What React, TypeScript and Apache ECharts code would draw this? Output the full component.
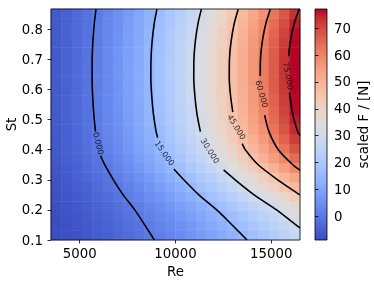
import React, { useEffect, useRef } from "react";
import * as echarts from "echarts";

// Re cell centres (24 columns) and St cell centres (24 rows, bottom to top)
const reCenters = [3771, 4313, 4854, 5396, 5938, 6479, 7021, 7563, 8104, 8646, 9188, 9729, 10271, 10813, 11354, 11896, 12438, 12979, 13521, 14063, 14604, 15146, 15688, 16229];
const stCenters = [0.116, 0.148, 0.18, 0.212, 0.244, 0.276, 0.308, 0.34, 0.372, 0.404, 0.436, 0.468, 0.5, 0.532, 0.564, 0.596, 0.628, 0.66, 0.692, 0.724, 0.756, 0.788, 0.82, 0.852];

// scaled F / [N], one row per St value (bottom row first)
const fRow00 = [-8.8, -8.2, -7.5, -6.7, -5.8, -4.9, -3.9, -2.7, -1.5, -0.2, 1.1, 2.6, 4.1, 5.8, 7.5, 9.2, 11.1, 13.1, 15.1, 17.2, 19.4, 21.7, 24.1, 26.6];
const fRow01 = [-8.7, -8.0, -7.2, -6.4, -5.5, -4.4, -3.3, -2.1, -0.8, 0.6, 2.1, 3.6, 5.3, 7.0, 8.9, 10.8, 12.8, 14.9, 17.1, 19.4, 21.8, 24.2, 26.8, 29.4];
const fRow02 = [-8.5, -7.8, -7.0, -6.0, -5.0, -3.9, -2.7, -1.4, 0.0, 1.5, 3.1, 4.8, 6.6, 8.4, 10.4, 12.5, 14.7, 16.9, 19.3, 21.8, 24.3, 27.0, 29.8, 32.6];
const fRow03 = [-8.3, -7.5, -6.6, -5.6, -4.5, -3.3, -1.9, -0.5, 1.0, 2.7, 4.4, 6.3, 8.2, 10.3, 12.5, 14.8, 17.1, 19.6, 22.2, 24.9, 27.8, 30.7, 33.7, 36.8];
const fRow04 = [-8.0, -7.1, -6.1, -5.0, -3.8, -2.4, -0.9, 0.6, 2.4, 4.2, 6.1, 8.2, 10.4, 12.6, 15.1, 17.6, 20.2, 23.0, 25.9, 28.9, 32.0, 35.3, 38.6, 42.1];
const fRow05 = [-7.7, -6.7, -5.6, -4.4, -3.0, -1.5, 0.1, 1.9, 3.8, 5.8, 8.0, 10.3, 12.7, 15.2, 17.9, 20.7, 23.6, 26.7, 29.9, 33.2, 36.7, 40.3, 44.0, 47.9];
const fRow06 = [-7.4, -6.3, -5.1, -3.8, -2.3, -0.7, 1.1, 3.0, 5.0, 7.2, 9.6, 12.1, 14.7, 17.4, 20.3, 23.4, 26.6, 29.9, 33.4, 37.0, 40.8, 44.7, 48.7, 52.9];
const fRow07 = [-7.1, -5.9, -4.6, -3.1, -1.5, 0.3, 2.3, 4.4, 6.6, 9.0, 11.6, 14.3, 17.2, 20.2, 23.4, 26.8, 30.3, 34.0, 37.8, 41.8, 45.9, 50.2, 54.6, 59.2];
const fRow08 = [-6.8, -5.5, -4.1, -2.5, -0.8, 1.2, 3.2, 5.5, 7.9, 10.5, 13.3, 16.2, 19.3, 22.6, 26.0, 29.6, 33.4, 37.3, 41.4, 45.7, 50.1, 54.8, 59.5, 64.5];
const fRow09 = [-6.6, -5.3, -3.8, -2.1, -0.2, 1.8, 4.0, 6.4, 8.9, 11.7, 14.6, 17.6, 20.9, 24.3, 28.0, 31.7, 35.7, 39.9, 44.2, 48.7, 53.3, 58.2, 63.2, 68.4];
const fRow10 = [-6.4, -5.0, -3.5, -1.7, 0.2, 2.3, 4.6, 7.1, 9.7, 12.5, 15.6, 18.8, 22.2, 25.7, 29.5, 33.4, 37.6, 41.9, 46.4, 51.0, 55.9, 60.9, 66.2, 71.6];
const fRow11 = [-6.3, -4.9, -3.3, -1.5, 0.5, 2.7, 5.0, 7.6, 10.3, 13.2, 16.3, 19.6, 23.1, 26.8, 30.7, 34.7, 39.0, 43.4, 48.0, 52.8, 57.8, 63.0, 68.4, 74.0];
const fRow12 = [-6.2, -4.7, -3.1, -1.3, 0.7, 2.9, 5.3, 7.9, 10.7, 13.7, 16.8, 20.2, 23.8, 27.5, 31.4, 35.6, 39.9, 44.4, 49.1, 54.0, 59.1, 64.4, 69.9, 75.5];
const fRow13 = [-6.1, -4.7, -3.0, -1.2, 0.9, 3.1, 5.5, 8.1, 11.0, 14.0, 17.2, 20.6, 24.2, 28.0, 32.0, 36.1, 40.5, 45.1, 49.8, 54.8, 60.0, 65.3, 70.9, 76.6];
const fRow14 = [-6.1, -4.6, -2.9, -1.1, 1.0, 3.3, 5.7, 8.4, 11.2, 14.3, 17.5, 21.0, 24.6, 28.4, 32.5, 36.7, 41.1, 45.8, 50.6, 55.6, 60.8, 66.2, 71.8, 76.9];
const fRow15 = [-6.0, -4.6, -2.9, -1.0, 1.1, 3.3, 5.8, 8.5, 11.4, 14.4, 17.7, 21.1, 24.8, 28.7, 32.7, 37.0, 41.4, 46.1, 50.9, 56.0, 61.2, 66.7, 72.3, 77.1];
const fRow16 = [-6.0, -4.5, -2.8, -1.0, 1.1, 3.4, 5.9, 8.6, 11.5, 14.6, 17.8, 21.3, 25.0, 28.9, 33.0, 37.3, 41.7, 46.4, 51.3, 56.4, 61.7, 67.1, 72.8, 77.2];
const fRow17 = [-6.0, -4.5, -2.8, -0.9, 1.2, 3.5, 6.0, 8.7, 11.5, 14.6, 17.9, 21.4, 25.1, 29.0, 33.1, 37.4, 41.9, 46.6, 51.5, 56.6, 61.9, 67.4, 73.1, 77.2];
const fRow18 = [-6.0, -4.5, -2.8, -1.0, 1.1, 3.4, 5.9, 8.6, 11.5, 14.6, 17.8, 21.3, 25.0, 28.9, 33.0, 37.3, 41.7, 46.4, 51.3, 56.4, 61.7, 67.1, 72.8, 77.2];
const fRow19 = [-6.0, -4.5, -2.9, -1.0, 1.1, 3.4, 5.9, 8.5, 11.4, 14.5, 17.8, 21.2, 24.9, 28.8, 32.9, 37.1, 41.6, 46.3, 51.1, 56.2, 61.5, 66.9, 72.6, 77.1];
const fRow20 = [-6.1, -4.6, -2.9, -1.1, 1.0, 3.3, 5.7, 8.4, 11.2, 14.3, 17.5, 21.0, 24.6, 28.4, 32.5, 36.7, 41.1, 45.8, 50.6, 55.6, 60.8, 66.2, 71.8, 76.9];
const fRow21 = [-6.1, -4.7, -3.0, -1.2, 0.9, 3.1, 5.5, 8.1, 11.0, 14.0, 17.2, 20.6, 24.2, 28.0, 32.0, 36.1, 40.5, 45.1, 49.8, 54.8, 60.0, 65.3, 70.9, 76.6];
const fRow22 = [-6.2, -4.8, -3.1, -1.3, 0.7, 2.9, 5.3, 7.9, 10.6, 13.6, 16.8, 20.1, 23.6, 27.4, 31.3, 35.4, 39.7, 44.2, 48.9, 53.8, 58.9, 64.2, 69.6, 75.3];
const fRow23 = [-6.3, -4.9, -3.3, -1.5, 0.4, 2.6, 4.9, 7.5, 10.2, 13.1, 16.2, 19.4, 22.9, 26.6, 30.4, 34.4, 38.7, 43.1, 47.6, 52.4, 57.4, 62.6, 67.9, 73.4];
const fRows = [fRow00, fRow01, fRow02, fRow03, fRow04, fRow05, fRow06, fRow07, fRow08, fRow09, fRow10, fRow11, fRow12, fRow13, fRow14, fRow15, fRow16, fRow17, fRow18, fRow19, fRow20, fRow21, fRow22, fRow23];

// contour lines: [Re, St], null = gap for the inline label
const contour0 = [[5850, 0.867], [5760, 0.82], [5687, 0.76], [5649, 0.7], [5645, 0.64], [5674, 0.58], [5730, 0.52], [5823, 0.46], null, [6085, 0.38], [6310, 0.35], [6759, 0.3], [7268, 0.25], [7874, 0.2], [8394, 0.15], [8899, 0.1]];
const contour15 = [[9030, 0.867], [8891, 0.82], [8778, 0.76], [8720, 0.7], [8713, 0.64], [8758, 0.58], [8844, 0.52], [8988, 0.46], [9066, 0.44], null, [9914, 0.336], [10433, 0.3], [11218, 0.25], [12154, 0.2], [12956, 0.15], [13736, 0.1]];
const contour30 = [[11352, 0.867], [11177, 0.82], [11035, 0.76], [10961, 0.7], [10953, 0.64], [11010, 0.58], [11118, 0.52], [11299, 0.46], null, [12511, 0.333], [13115, 0.3], [14103, 0.25], [15278, 0.2], [16287, 0.15], [16500, 0.14]];
const contour45 = [[13273, 0.867], [13069, 0.82], [12902, 0.76], [12816, 0.7], [12807, 0.64], [12874, 0.58], [12990, 0.525], null, [13480, 0.42], [13644, 0.4], [14316, 0.35], [15335, 0.3], [16490, 0.25], [16500, 0.249]];
const contour60 = [[14950, 0.867], [14720, 0.82], [14532, 0.76], [14435, 0.7], [14425, 0.645], null, [14653, 0.515], [14880, 0.46], [15368, 0.4], [16125, 0.35], [16500, 0.332]];
const contour75 = [[16457, 0.867], [16203, 0.82], [15997, 0.76], [15902, 0.71], null, [15949, 0.59], [16117, 0.52], [16379, 0.46], [16500, 0.447]];
const contours = [contour0, contour15, contour30, contour45, contour60, contour75];

// contour labels: text, Re, St, rotation
const contourLabelTexts = ["0.000", "15.000", "30.000", "45.000", "60.000", "75.000"];
const contourLabelRe = [5960, 9420, 11790, 13180, 14489, 15874];
const contourLabelSt = [0.421, 0.388, 0.396, 0.475, 0.585, 0.645];
const contourLabelRotate = [-76, -55, -58, -59, -74, -80];

const reTicks = [5000, 10000, 15000];
const stTicks = [0.1, 0.2, 0.3, 0.4, 0.5, 0.6, 0.7, 0.8];
const cbTicks = [0, 10, 20, 30, 40, 50, 60, 70];
const reMin = 3500, reMax = 16500, stMin = 0.1, stMax = 0.8675;
const colorMin = -8.9, colorMax = 77.2;

const coolwarm = ["#3b4cc0", "#445acc", "#4d68d7", "#5775e1", "#6282ea", "#6c8ef1", "#779af7", "#82a5fb", "#8db0fe", "#98b9ff", "#a3c2ff", "#aec9fd", "#b8d0f9", "#c2d5f4", "#ccd9ee", "#d5dbe6", "#dddddd", "#e5d8d1", "#ecd3c5", "#f1ccb9", "#f5c4ad", "#f7bba0", "#f7b194", "#f7a687", "#f49a7b", "#f18d6f", "#ec7f63", "#e57058", "#de604d", "#d55042", "#cb3e38", "#c0282f", "#b40426"];

const FONT = "DejaVu Sans";
const G = { left: 51, top: 9, width: 249, height: 231 };
const CB = { left: 315, top: 9, width: 12, height: 231 };

function splitSegments(pts: any[]) {
  const segs: number[][][] = [];
  let cur: number[][] = [];
  pts.forEach((p) => {
    if (p === null) { if (cur.length) segs.push(cur); cur = []; } else cur.push(p);
  });
  if (cur.length) segs.push(cur);
  return segs;
}

export default function App() {
  const ref = useRef<HTMLDivElement>(null);
  useEffect(() => {
    const chart = echarts.init(ref.current!, null, { renderer: "svg" });
    const heatData: number[][] = [];
    fRows.forEach((row, j) => row.forEach((v, i) => heatData.push([i, j, v])));

    const lineSeries: any[] = [];
    contours.forEach((c) => {
      splitSegments(c).forEach((seg) => {
        lineSeries.push({
          type: "line", xAxisIndex: 0, yAxisIndex: 0, data: seg, showSymbol: false, symbol: "none",
          smooth: 0.25, lineStyle: { color: "#000", width: 1.6 }, z: 5, silent: true,
        });
      });
    });

    const labelData = contourLabelTexts.map((t, k) => ({
      value: [contourLabelRe[k], contourLabelSt[k]],
      label: { show: true, formatter: t, rotate: contourLabelRotate[k], position: "inside", align: "center", verticalAlign: "middle", color: "#000", fontSize: 8, fontFamily: FONT },
    }));

    const stops = coolwarm.map((c, k) => ({ offset: k / (coolwarm.length - 1), color: c }));

    const tickStyle = { lineStyle: { color: "#000", width: 0.8 }, length: 3.5, inside: false };
    const labelStyle = { color: "#000", fontSize: 13.3, fontFamily: FONT };

    chart.setOption({
      animation: false,
      grid: [
        { ...G, outerBoundsMode: "none", containLabel: false },
        { ...G, outerBoundsMode: "none", containLabel: false },
        { ...CB, outerBoundsMode: "none", containLabel: false },
      ],
      xAxis: [
        {
          type: "value", gridIndex: 0, min: reMin, max: reMax, z: 10,
          axisLine: { show: false }, splitLine: { show: false },
          axisTick: { show: true, customValues: reTicks, ...tickStyle },
          axisLabel: { ...labelStyle, margin: 7, customValues: reTicks, formatter: (v: number) => String(v) },
          name: "Re", nameLocation: "middle", nameGap: 18, nameTextStyle: { ...labelStyle },
        },
        { type: "category", gridIndex: 1, data: reCenters, show: false, boundaryGap: true },
        { type: "value", gridIndex: 2, min: 0, max: 1, show: false },
      ],
      yAxis: [
        {
          type: "value", gridIndex: 0, min: stMin, max: stMax, z: 10,
          axisLine: { show: false }, splitLine: { show: false },
          axisTick: { show: true, customValues: stTicks, ...tickStyle },
          axisLabel: { ...labelStyle, margin: 8, customValues: stTicks, formatter: (v: number) => v.toFixed(1) },
          name: "St", nameLocation: "middle", nameGap: 33, nameRotate: 90, nameMoveOverlap: false, nameTextStyle: { ...labelStyle },
        },
        { type: "category", gridIndex: 1, data: stCenters, show: false, boundaryGap: true },
        {
          type: "value", gridIndex: 2, min: colorMin, max: colorMax, position: "right", z: 10,
          axisLine: { show: false }, splitLine: { show: false },
          axisTick: { show: true, customValues: cbTicks, ...tickStyle },
          axisLabel: { ...labelStyle, margin: 7, customValues: cbTicks, formatter: (v: number) => String(v) },
          name: "scaled F / [N]", nameLocation: "middle", nameGap: 30, nameRotate: 90, nameTextStyle: { ...labelStyle },
        },
      ],
      visualMap: {
        type: "continuous", show: false, seriesIndex: 0, min: colorMin, max: colorMax,
        inRange: { color: coolwarm },
      },
      series: [
        { type: "heatmap", xAxisIndex: 1, yAxisIndex: 1, data: heatData, z: 1, silent: true, itemStyle: { borderWidth: 0 } },
        {
          type: "custom", xAxisIndex: 2, yAxisIndex: 2, data: [[0]], silent: true,
          renderItem: (_p: any, api: any) => {
            const p0 = api.coord([0, colorMin]);
            const p1 = api.coord([1, colorMax]);
            return {
              type: "rect",
              shape: { x: p0[0], y: p1[1], width: p1[0] - p0[0], height: p0[1] - p1[1] },
              style: { fill: new echarts.graphic.LinearGradient(0, 1, 0, 0, stops) },
            };
          },
        },
        ...lineSeries,
        {
          type: "scatter", xAxisIndex: 0, yAxisIndex: 0, symbolSize: 0, data: labelData, z: 6, silent: true,
        },
      ],
      graphic: [
        { type: "rect", z: 100, shape: { x: G.left, y: G.top, width: G.width, height: G.height }, style: { fill: "none", stroke: "#000", lineWidth: 0.8 }, silent: true },
        { type: "rect", z: 100, shape: { x: CB.left, y: CB.top, width: CB.width, height: CB.height }, style: { fill: "none", stroke: "#000", lineWidth: 0.8 }, silent: true },
      ],
    });
    return () => chart.dispose();
  }, []);
  return <div ref={ref} style={{ position: "fixed", left: 0, top: 0, width: 374, height: 283 }} />;
}
